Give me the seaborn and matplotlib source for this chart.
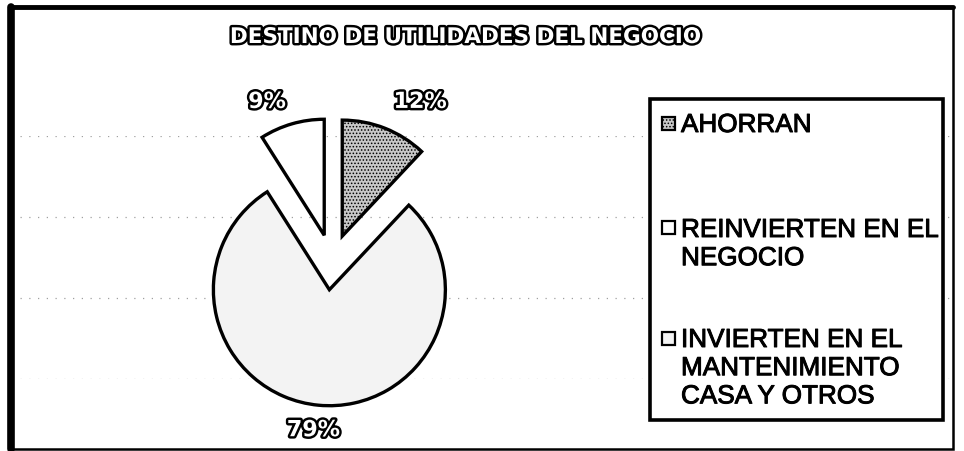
import matplotlib
matplotlib.use('Agg')
import matplotlib.pyplot as plt
import matplotlib.patheffects as pe
from matplotlib.patches import Rectangle
from matplotlib.lines import Line2D
import seaborn as sns

# data (legend order)
categorias = ['AHORRAN', 'REINVIERTEN EN EL\nNEGOCIO',
              'INVIERTEN EN EL\nMANTENIMIENTO\nCASA Y OTROS']
porcentajes = [12, 9, 79]
etiquetas = ['12%', '9%', '79%']
colores = ['#c8c8c8', '#ffffff', '#f3f3f3']
tramas = ['.....', None, None]
orden_pie = [1, 2, 0]  # drawn counterclockwise from 12 o'clock

sns.set_theme(style='white')
plt.rcParams['font.family'] = ['Liberation Sans', 'DejaVu Sans']
plt.rcParams['hatch.linewidth'] = 0.7

W, H = 964, 451
fig = plt.figure(figsize=(W / 100, H / 100), dpi=100)


def fx(px):
    return px / W


def fy(py):
    return 1 - py / H


# faint dotted lines in the background (scanned gridlines)
bg = fig.add_axes([fx(20), fy(379), fx(930), 243 / H])
bg.set_ylim(0, 3)
bg.set_yticks([0, 1, 2, 3])
bg.set_xticks([])
bg.tick_params(left=False, labelleft=False)
bg.grid(axis='y', linestyle=(0, (1, 6)), color='#a0a0a0', linewidth=0.9)
for s in bg.spines.values():
    s.set_visible(False)
bg.patch.set_alpha(0)

# pie
cx, cy, R, L = 332, 262, 116, 1.6
ax = fig.add_axes([fx(cx - R * L), fy(cy + R * L), 2 * R * L / W, 2 * R * L / H])
ax.patch.set_alpha(0)
wedges, _ = ax.pie([porcentajes[i] for i in orden_pie],
                   colors=[colores[i] for i in orden_pie],
                   startangle=90, counterclock=True, explode=[0.24] * 3,
                   wedgeprops=dict(edgecolor='black', linewidth=2.4))
for w, i in zip(wedges, orden_pie):
    if tramas[i]:
        w.set_hatch(tramas[i])
ax.set_xlim(-L, L)
ax.set_ylim(-L, L)

contorno = [pe.withStroke(linewidth=3.5, foreground='black')]
pos_etiquetas = [(0.76, 1.38), (-0.56, 1.38), (-0.16, -1.45)]
for txt, (x, y) in zip(etiquetas, pos_etiquetas):
    ax.text(x, y, txt, ha='center', va='center', fontsize=16, fontweight='bold',
            family='DejaVu Sans', color='white', path_effects=contorno)

fig.text(fx(466), fy(37), 'DESTINO DE UTILIDADES DEL NEGOCIO', ha='center', va='center',
         fontsize=15.5, fontweight='bold', family='DejaVu Sans', color='white',
         path_effects=contorno)

# legend box
fig.add_artist(Rectangle((fx(650), fy(420)), fx(943 - 650), (420 - 99) / H,
                         transform=fig.transFigure, facecolor='white', edgecolor='black',
                         linewidth=2.6))
lineas_y = [123, 228, 338]  # centre of the first line of each entry
grueso = [pe.withStroke(linewidth=0.7, foreground='black')]
for cat, col, tr, y in zip(categorias, colores, tramas, lineas_y):
    fig.add_artist(Rectangle((fx(662), fy(y + 6.5)), fx(13), 13 / H, transform=fig.transFigure,
                             facecolor=col, edgecolor='black', hatch=tr, linewidth=1.6))
    fig.text(fx(681), fy(y - 10), cat, ha='left', va='top', fontsize=18.8,
             linespacing=1.22, color='black', path_effects=grueso)

# outer border
fig.add_artist(Rectangle((fx(11), fy(449)), fx(953 - 11), (449 - 7) / H,
                         transform=fig.transFigure, fill=False, edgecolor='black', linewidth=1.8))
fig.add_artist(Line2D([fx(11), fx(11)], [fy(449), fy(7)], transform=fig.transFigure,
                      color='black', linewidth=5.5))
fig.add_artist(Line2D([fx(11), fx(953)], [fy(7), fy(7)], transform=fig.transFigure,
                      color='black', linewidth=3.5))

fig.savefig('out.png', dpi=100)
